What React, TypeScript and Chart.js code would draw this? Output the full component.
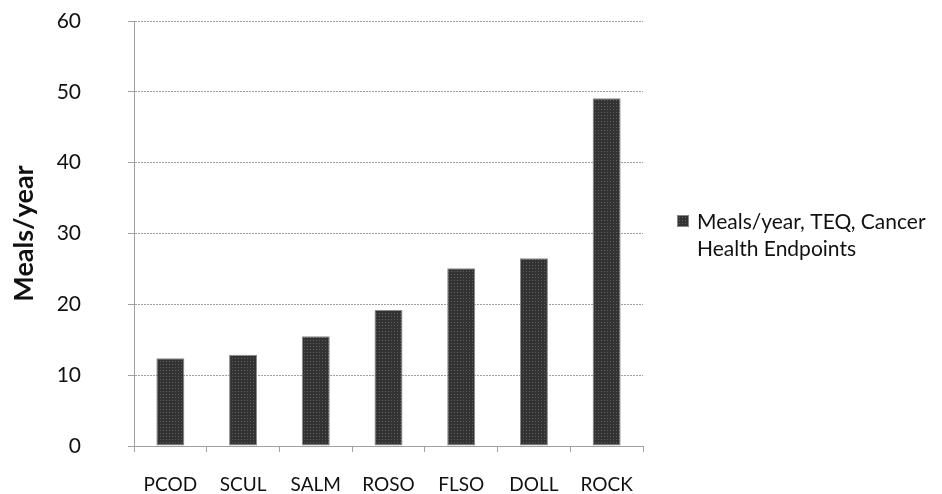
import React, { useEffect, useRef } from "react";
import { Chart, registerables } from "chart.js";

Chart.register(...registerables);

const categories = ["PCOD", "SCUL", "SALM", "ROSO", "FLSO", "DOLL", "ROCK"];
const mealsPerYear = [12.4, 12.9, 15.5, 19.2, 25.1, 26.5, 49.1];
const seriesLabel = ["Meals/year, TEQ, Cancer", "Health Endpoints"];
const yTitle = "Meals/year";
const yMin = 0;
const yMax = 60;
const yStep = 10;

const FONT = "Lato, 'Open Sans', sans-serif";

function makePattern(): CanvasPattern | string {
  const c = document.createElement("canvas");
  c.width = 3;
  c.height = 3;
  const g = c.getContext("2d");
  if (!g) return "#383838";
  g.fillStyle = "#333333";
  g.fillRect(0, 0, 3, 3);
  g.fillStyle = "#5e5e5e";
  g.fillRect(1, 1, 1, 1);
  const p = g.createPattern(c, "repeat");
  return p || "#383838";
}

const legendPlugin = {
  id: "customLegend",
  afterDraw(chart: any) {
    const ctx = chart.ctx;
    const ds = chart.data.datasets[0];
    const lines: string[] = ds.legendLines;
    ctx.save();
    ctx.fillStyle = ds.backgroundColor;
    ctx.fillRect(677, 215, 12, 12);
    ctx.strokeStyle = "#888";
    ctx.lineWidth = 1;
    ctx.strokeRect(677.5, 215.5, 11, 11);
    ctx.fillStyle = "#111";
    ctx.font = `21px ${FONT}`;
    ctx.textBaseline = "middle";
    ctx.textAlign = "left";
    lines.forEach((t, i) => ctx.fillText(t, 697, 222 + i * 27));
    ctx.restore();
  },
};

export default function App() {
  const ref = useRef<HTMLCanvasElement>(null);
  useEffect(() => {
    if (!ref.current) return;
    const pattern = makePattern();
    const gridColor = "#a0a0a0";
    const chart = new Chart(ref.current, {
      type: "bar",
      data: {
        labels: categories,
        datasets: [
          {
            label: seriesLabel.join(" "),
            legendLines: seriesLabel,
            data: mealsPerYear,
            backgroundColor: pattern as any,
            borderColor: "#8a8a8a",
            borderWidth: 1,
            borderSkipped: false,
            categoryPercentage: 1,
            barPercentage: 0.385,
          } as any,
        ],
      },
      options: {
        animation: false,
        responsive: false,
        maintainAspectRatio: false,
        layout: { padding: { top: 21, left: 4, right: 299, bottom: 0 } },
        plugins: {
          legend: { display: false },
          tooltip: { enabled: false },
        },
        scales: {
          x: {
            offset: true,
            grid: {
              display: true,
              drawOnChartArea: false,
              drawTicks: true,
              tickLength: 6,
              color: gridColor,
              offset: true,
            },
            border: { display: true, color: gridColor, width: 1 },
            ticks: {
              color: "#111",
              font: { family: FONT, size: 19 },
              padding: 21,
              maxRotation: 0,
              autoSkip: false,
            },
            afterFit(scale: any) {
              scale.height = 48;
              scale.paddingLeft = 0;
              scale.paddingRight = 0;
            },
          },
          y: {
            min: yMin,
            max: yMax,
            ticks: {
              stepSize: yStep,
              color: "#111",
              font: { family: FONT, size: 21 },
              padding: 47,
            },
            grid: {
              color: gridColor,
              tickLength: 6,
              drawTicks: true,
            },
            border: { display: true, color: gridColor, width: 1, dash: [2, 1] },
            title: {
              display: true,
              text: yTitle,
              color: "#111",
              font: { family: FONT, size: 27, weight: "bold" },
              padding: { top: 4, bottom: 4 },
            },
            afterFit(scale: any) {
              scale.width = 130;
              scale.paddingTop = 0;
              scale.paddingBottom = 0;
            },
          },
        },
      },
      plugins: [legendPlugin],
    });
    return () => chart.destroy();
  }, []);
  return (
    <div style={{ position: "fixed", left: 0, top: 0, width: 942, height: 494, background: "#fff" }}>
      <canvas ref={ref} width={942} height={494} style={{ width: 942, height: 494 }} />
    </div>
  );
}
